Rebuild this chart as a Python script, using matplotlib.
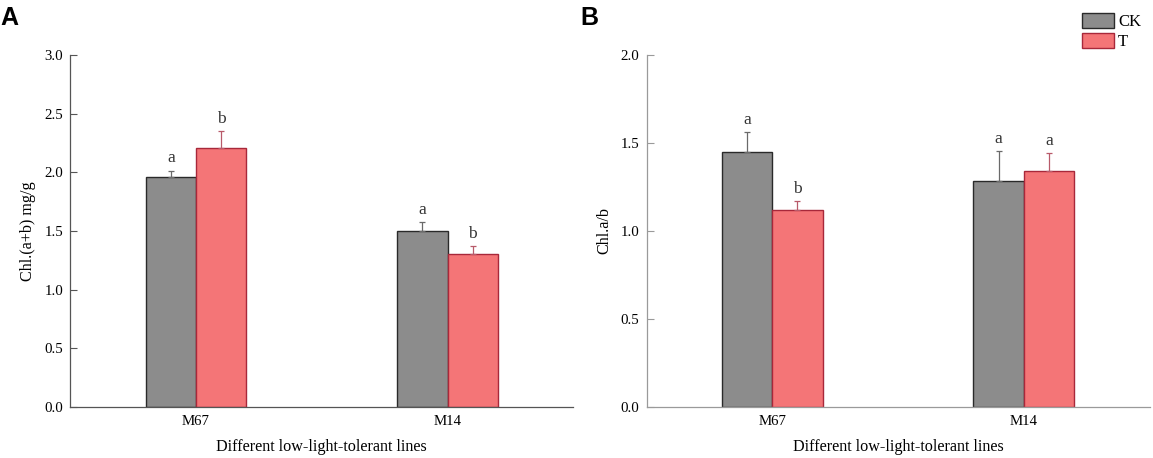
import matplotlib
matplotlib.use("Agg")
import matplotlib.pyplot as plt
import numpy as np

plt.rcParams['font.family'] = ['Liberation Serif', 'DejaVu Serif']

lines = ["M67", "M14"]
series = ["CK", "T"]

chl_ab = {"CK": [1.958, 1.497], "T": [2.205, 1.304]}
chl_ab_err = {"CK": [0.057, 0.077], "T": [0.145, 0.071]}
chl_ab_sig = {"CK": ["a", "a"], "T": ["b", "b"]}

chl_ratio = {"CK": [1.450, 1.286], "T": [1.117, 1.343]}
chl_ratio_err = {"CK": [0.111, 0.167], "T": [0.052, 0.102]}
chl_ratio_sig = {"CK": ["a", "a"], "T": ["b", "a"]}

fill = {"CK": "#8c8c8c", "T": "#f47577"}
edge = {"CK": "#2a2a2a", "T": "#a8283a"}
ecol = {"CK": "#6a6a6a", "T": "#b85a6a"}

W, H = 1153, 458
fig = plt.figure(figsize=(W / 100, H / 100), dpi=100)

def panel(left, vals, errs, sigs, ylabel, ymax, spine_col, label, label_x):
    ax = fig.add_axes([left / W, 1 - 407 / H, 503 / W, (407 - 55) / H])
    x = np.arange(len(lines))
    bw = 0.2
    for i, s in enumerate(series):
        pos = x + (i - 0.5) * bw
        ax.bar(pos, vals[s], width=bw, color=fill[s], edgecolor=edge[s],
               linewidth=1.0, label=s, zorder=2)
        ax.errorbar(pos, vals[s], yerr=[np.zeros(len(lines)), errs[s]],
                    fmt='none', ecolor=ecol[s], elinewidth=0.9, capsize=2.5,
                    capthick=0.9, zorder=3)
        for p, v, e, t in zip(pos, vals[s], errs[s], sigs[s]):
            ax.annotate(t, (p, v + e), xytext=(0, 3), textcoords='offset points',
                        ha='center', va='bottom', fontsize=12.5, color='#333333')
    ax.set_xlim(-0.5, 1.5)
    ax.set_ylim(0, ymax)
    ticks = np.arange(0, ymax + 0.01, 0.5)
    ax.set_yticks(ticks)
    ax.set_yticklabels([f"{t:.1f}" for t in ticks])
    ax.set_xticks(x)
    ax.set_xticklabels(lines)
    ax.tick_params(axis='x', length=0, pad=6, labelsize=10.7)
    ax.tick_params(axis='y', direction='in', length=5, width=0.8,
                   color=spine_col, pad=5, labelsize=10.7)
    for sp in ['top', 'right']:
        ax.spines[sp].set_visible(False)
    for sp in ['left', 'bottom']:
        ax.spines[sp].set_color(spine_col)
        ax.spines[sp].set_linewidth(0.9)
    ax.set_ylabel(ylabel, fontsize=11.6, labelpad=6)
    ax.set_xlabel("Different low-light-tolerant lines", fontsize=11.6, labelpad=8)
    fig.text(label_x / W, 1 - 6 / H, label, fontsize=18, fontweight='bold',
             family='Liberation Sans', ha='left', va='top')
    return ax

axA = panel(70.3, chl_ab, chl_ab_err, chl_ab_sig, "Chl.(a+b) mg/g", 3.0, "#555555", "A", 0)
axB = panel(646.5, chl_ratio, chl_ratio_err, chl_ratio_sig, "Chl.a/b", 2.0, "#9a9a9a", "B", 580)

axB.legend(loc='upper left', bbox_to_anchor=(1081.5 / W, 1 - 13.5 / H),
           bbox_transform=fig.transFigure, frameon=False, fontsize=12,
           handlelength=1.95, handleheight=0.95, labelspacing=0.18,
           handletextpad=0.25, borderpad=0, borderaxespad=0)

fig.savefig("out.png", dpi=100)
